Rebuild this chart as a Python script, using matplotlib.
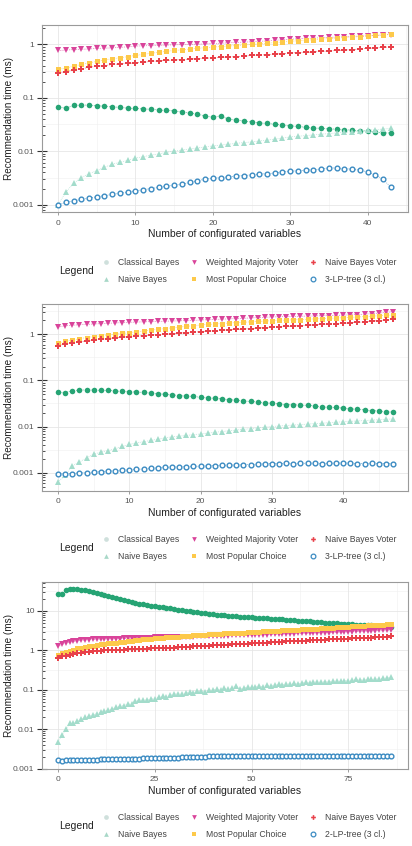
import numpy as np
import matplotlib
matplotlib.use("Agg")
import matplotlib.pyplot as plt
from matplotlib.lines import Line2D
from matplotlib.ticker import FixedLocator, LogLocator, MultipleLocator, NullFormatter

plt.rcParams['font.family'] = ['Liberation Sans', 'DejaVu Sans']

# ---- panel 1 : 0..43 configured variables ----
cb1 = [.067, .064, .072, .073, .073, .071, .070, .068, .066, .064, .063, .062, .061, .059, .058,
       .057, .054, .052, .049, .046, .043, .046, .040, .038, .037, .035, .034, .033, .032, .031,
       .030, .029, .028, .027, .027, .026, .026, .025, .025, .024, .024, .023, .022, .022]
nb1 = [.0010, .0017, .0025, .0032, .0038, .0043, .0050, .0057, .0062, .0067, .0074, .0079, .0084,
       .0089, .0095, .0101, .0105, .0110, .0115, .0120, .0126, .0130, .0135, .0140, .0145, .0149,
       .0155, .0161, .0168, .0176, .0185, .0190, .0196, .0202, .0208, .0214, .0220, .0226, .0232,
       .0240, .0247, .0252, .0260, .0266]
wmv1 = [.77, .78, .80, .81, .82, .84, .85, .86, .88, .90, .93, .94, .95, .96, .97, .98, .99, 1.0,
        1.01, 1.02, 1.04, 1.05, 1.07, 1.09, 1.10, 1.12, 1.14, 1.16, 1.19, 1.22, 1.25, 1.27, 1.29,
        1.31, 1.33, 1.35, 1.37, 1.39, 1.41, 1.43, 1.45, 1.47, 1.50, 1.53]
mpc1 = [.34, .36, .39, .42, .45, .48, .51, .54, .56, .59, .62, .65, .68, .71, .74, .77, .79, .82,
        .84, .87, .89, .91, .93, .95, .97, 1.0, 1.02, 1.05, 1.08, 1.11, 1.14, 1.17, 1.2, 1.22, 1.25,
        1.28, 1.31, 1.34, 1.37, 1.40, 1.43, 1.47, 1.51, 1.56]
nbv1 = [.29, .31, .33, .35, .37, .39, .40, .42, .43, .44, .45, .46, .48, .49, .50, .51, .52, .53,
        .54, .55, .56, .57, .58, .59, .60, .62, .63, .64, .66, .67, .69, .70, .71, .72, .74, .75,
        .77, .78, .80, .82, .84, .86, .88, .90]
lp1 = [.00100, .00110, .00118, .00125, .00132, .00140, .00147, .00155, .00163, .00170, .00180,
       .00190, .00200, .00210, .00220, .00230, .00240, .00260, .00280, .00300, .00310, .00320,
       .00330, .00340, .00350, .00360, .00370, .00380, .00390, .00410, .00420, .00430, .00440,
       .00450, .00460, .00490, .00480, .00470, .00460, .00440, .00410, .00360, .00300, .00210]

# ---- panel 2 : 0..47 configured variables ----
cb2 = [.055, .054, .060, .062, .062, .062, .061, .061, .059, .058, .057, .056, .055, .053, .052,
       .050, .049, .047, .046, .045, .043, .042, .041, .040, .038, .0376, .036, .035, .034, .033,
       .032, .031, .030, .030, .029, .029, .028, .027, .026, .026, .025, .024, .024, .023, .022,
       .022, .021, .0206]
nb2 = [.00062, .00089, .0014, .0017, .0021, .0025, .0028, .0030, .0033, .0037, .0041, .0044, .0047,
       .0050, .0053, .0057, .0060, .0062, .0064, .0067, .0069, .0072, .0075, .0078, .0081, .0084,
       .0087, .0090, .0094, .0097, .0100, .0103, .0105, .0108, .0110, .0113, .0116, .0118, .0121,
       .0124, .0127, .0130, .0132, .0135, .0138, .0141, .0144, .0146]
wmv2 = [1.46, 1.52, 1.57, 1.61, 1.64, 1.67, 1.70, 1.73, 1.76, 1.79, 1.82, 1.84, 1.86, 1.88, 1.90,
        1.92, 1.94, 1.96, 1.98, 2.00, 2.04, 2.07, 2.10, 2.13, 2.16, 2.19, 2.22, 2.26, 2.30, 2.34,
        2.38, 2.40, 2.42, 2.44, 2.46, 2.48, 2.50, 2.52, 2.55, 2.57, 2.60, 2.64, 2.68, 2.73, 2.80,
        2.88, 2.97, 3.10]
mpc2 = [.64, .70, .75, .80, .85, .89, .93, .97, 1.01, 1.04, 1.08, 1.13, 1.18, 1.23, 1.28, 1.33,
        1.38, 1.43, 1.48, 1.54, 1.59, 1.63, 1.67, 1.71, 1.75, 1.79, 1.82, 1.86, 1.90, 1.93, 1.97,
        2.0, 2.03, 2.06, 2.09, 2.12, 2.15, 2.18, 2.21, 2.25, 2.29, 2.33, 2.37, 2.42, 2.47, 2.52,
        2.57, 2.62]
nbv2 = [.57, .61, .65, .68, .72, .75, .78, .81, .84, .86, .89, .91, .93, .96, .98, 1.00, 1.03,
        1.06, 1.08, 1.11, 1.14, 1.17, 1.19, 1.22, 1.25, 1.27, 1.30, 1.33, 1.36, 1.39, 1.42, 1.45,
        1.48, 1.51, 1.54, 1.57, 1.60, 1.63, 1.66, 1.70, 1.73, 1.77, 1.81, 1.86, 1.92, 1.98, 2.05,
        2.15]
lp2 = [.00095, .00093, .00096, .00099, .00100, .00103, .00105, .00107, .00110, .00112, .00115,
       .00118, .00120, .00124, .00127, .00130, .00132, .00133, .00135, .00137, .00138, .00140,
       .00142, .00144, .00145, .00146, .00148, .00150, .00152, .00155, .00158, .00158, .00160,
       .00158, .00160, .00160, .00160, .00158, .00160, .00160, .00162, .00160, .00158, .00158,
       .00160, .00158, .00158, .00155]

# ---- panel 3 : 0..86 configured variables ----
cb3 = [27, 27, 33, 35, 35.5, 35, 34, 33, 32, 30.5, 29, 27.5, 26, 24.5, 23, 21.5, 20.2, 19, 18,
       17, 16.2, 15.4, 14.7, 14.1, 13.7, 13.3, 12.8, 12.4, 12, 11.6, 11.2, 10.8, 10.4, 10.1, 9.8,
       9.5, 9.2, 8.9, 8.7, 8.5, 8.3, 8.1, 7.9, 7.7, 7.6, 7.4, 7.3, 7.2, 7.1, 7.0, 6.9, 6.8, 6.7,
       6.6, 6.5, 6.4, 6.3, 6.2, 6.1, 6.0, 5.9, 5.8, 5.7, 5.6, 5.5, 5.4, 5.3, 5.2, 5.1, 5.05, 5.0,
       4.9, 4.85, 4.8, 4.7, 4.65, 4.6, 4.5, 4.45, 4.4, 4.4, 4.3, 4.25, 4.2, 4.1, 4.05, 4.0]
nb3 = [.0048, .0070, .0099, .0140, .0145, .016, .018, .020, .022, .023, .025, .027, .029, .031,
       .033, .036, .038, .040, .043, .044, .052, .054, .055, .056, .058, .060, .066, .068, .065,
       .072, .078, .080, .077, .085, .088, .084, .092, .095, .090, .097, .100, .104, .101, .108,
       .105, .112, .125, .104, .112, .118, .115, .121, .125, .120, .130, .128, .133, .138, .135,
       .142, .140, .145, .142, .148, .155, .150, .157, .160, .155, .162, .160, .165, .168, .163,
       .172, .170, .178, .185, .175, .182, .185, .183, .190, .188, .195, .200, .210]
wmv3 = [1.28, 1.42, 1.52, 1.60, 1.68, 1.75, 1.80, 1.84, 1.87, 1.90, 1.92, 1.94, 1.96, 1.97, 1.98,
        1.99, 2.00, 2.01, 2.02, 2.03, 2.04, 2.05, 2.07, 2.09, 2.11, 2.13, 2.15, 2.16, 2.17, 2.18,
        2.19, 2.20, 2.21, 2.22, 2.23, 2.24, 2.25, 2.26, 2.27, 2.28, 2.30, 2.32, 2.34, 2.36, 2.38,
        2.40, 2.41, 2.42, 2.43, 2.44, 2.45, 2.46, 2.48, 2.50, 2.52, 2.54, 2.56, 2.58, 2.60, 2.62,
        2.64, 2.66, 2.68, 2.70, 2.72, 2.74, 2.76, 2.78, 2.80, 2.82, 2.84, 2.86, 2.88, 2.90, 2.93,
        2.96, 2.99, 3.02, 3.05, 3.08, 3.11, 3.14, 3.17, 3.20, 3.23, 3.25, 3.27]
mpc3 = [.76, .84, .92, .98, 1.05, 1.12, 1.17, 1.22, 1.27, 1.32, 1.38, 1.42, 1.46, 1.50, 1.54, 1.58,
        1.62, 1.66, 1.70, 1.76, 1.82, 1.86, 1.90, 1.94, 1.98, 2.02, 2.05, 2.09, 2.13, 2.17, 2.20,
        2.24, 2.28, 2.32, 2.36, 2.40, 2.44, 2.48, 2.52, 2.56, 2.60, 2.63, 2.66, 2.69, 2.72, 2.75,
        2.78, 2.81, 2.84, 2.87, 2.90, 2.94, 2.98, 3.02, 3.06, 3.10, 3.14, 3.18, 3.22, 3.26, 3.30,
        3.34, 3.38, 3.42, 3.46, 3.50, 3.54, 3.58, 3.62, 3.66, 3.70, 3.76, 3.82, 3.88, 3.94, 4.00,
        4.06, 4.12, 4.18, 4.24, 4.30, 4.36, 4.42, 4.48, 4.52, 4.56, 4.60]
nbv3 = [.65, .70, .74, .78, .81, .84, .87, .90, .93, .96, .98, .99, 1.00, 1.01, 1.02, 1.03, 1.04,
        1.05, 1.06, 1.07, 1.08, 1.09, 1.10, 1.11, 1.12, 1.13, 1.14, 1.15, 1.16, 1.165, 1.17, 1.19,
        1.21, 1.23, 1.24, 1.26, 1.27, 1.29, 1.30, 1.32, 1.34, 1.35, 1.37, 1.38, 1.40, 1.42, 1.43,
        1.45, 1.46, 1.48, 1.50, 1.52, 1.54, 1.56, 1.58, 1.60, 1.62, 1.64, 1.66, 1.68, 1.70, 1.72,
        1.74, 1.76, 1.78, 1.80, 1.82, 1.84, 1.86, 1.88, 1.90, 1.92, 1.94, 1.96, 1.98, 2.00, 2.02,
        2.04, 2.06, 2.08, 2.10, 2.12, 2.14, 2.16, 2.18, 2.20, 2.25]
lp3 = [.00170, .00160, .00162, .00163, .00164, .00165, .00166, .00167, .00168, .00169, .00170,
       .00171, .00172, .00173, .00174, .00175, .00176, .00177, .00178, .00179, .00180, .00181,
       .00182, .00183, .00184, .00185, .00186, .00187, .00188, .00189, .00190, .00192, .00194,
       .00196, .00198, .00200, .00201, .00202, .00203, .00204, .00205, .00206, .00207, .00208,
       .00209, .00210, .00210, .00211, .00211, .00212, .00212, .00212, .00212, .00212, .00211,
       .00211, .00211, .00211, .00210, .00210, .00210, .00210, .00210, .00210, .00210, .00210,
       .00210, .00210, .00210, .00210, .00210, .00210, .00210, .00210, .00210, .00210, .00209,
       .00209, .00209, .00209, .00209, .00208, .00208, .00208, .00208, .00208, .00208]

names = ["Classical Bayes", "Naive Bayes", "Weighted Majority Voter",
         "Most Popular Choice", "Naive Bayes Voter"]
lp_names = ["3-LP-tree (3 cl.)", "3-LP-tree (3 cl.)", "2-LP-tree (3 cl.)"]
colors = ["#26a474", "#a3dccb", "#d9449a", "#fdc94a", "#e8414a", "#3b8bc2"]
legend_colors = ["#cfe0dc", "#a8d8c8", "#d9449a", "#fdc94a", "#e8414a", "#3b8bc2"]
markers = ["o", "^", "v", "s", "P", "o"]
msizes = [4.0, 4.2, 4.4, 3.6, 4.6, 3.4]

panels = [
    dict(series=[cb1, nb1, wmv1, mpc1, nbv1, lp1], rect=[0.102, 0.7494, 0.888, 0.221],
         xlim=(-2.07, 45.2), ylim=(10**-3.139, 10**0.362), xmaj=10, leg_y=271),
    dict(series=[cb2, nb2, wmv2, mpc2, nbv2, lp2], rect=[0.102, 0.4200, 0.888, 0.2207],
         xlim=(-2.24, 49.07), ylim=(10**-3.39, 10**0.657), xmaj=10, leg_y=548),
    dict(series=[cb3, nb3, wmv3, mpc3, nbv3, lp3], rect=[0.102, 0.0914, 0.888, 0.2207],
         xlim=(-4.13, 90.4), ylim=(10**-3.0, 10**1.735), xmaj=25, leg_y=826),
]

W, H = 412, 846
fig = plt.figure(figsize=(W / 100, H / 100), dpi=100)

for k, p in enumerate(panels):
    ax = fig.add_axes(p["rect"])
    ax.set_yscale("log")
    for i, (s, c, m) in enumerate(zip(p["series"], colors, markers)):
        x = np.arange(len(s))
        open_marker = (i == 5)
        ax.plot(x, s, linestyle=":", lw=0.5, color=c, marker=m, ms=msizes[i],
                mfc="white" if open_marker else c, mec=c,
                mew=1.0 if open_marker else 0, zorder=3)
    ax.set_xlim(*p["xlim"])
    ax.set_ylim(*p["ylim"])

    # grid like ggplot
    ax.xaxis.set_major_locator(MultipleLocator(p["xmaj"]))
    ax.xaxis.set_minor_locator(MultipleLocator(p["xmaj"] / 2))
    ax.grid(True, which="major", axis="x", color="#e6e6e6", lw=0.6, zorder=0)
    ax.grid(True, which="minor", axis="x", color="#f0f0f0", lw=0.4, zorder=0)
    decades = [10.0 ** e for e in range(-4, 3)]
    ax.yaxis.set_major_locator(FixedLocator(decades))
    ax.yaxis.set_major_formatter(lambda v, pos: f"{v:g}")
    ax.yaxis.set_minor_locator(LogLocator(base=10, subs=np.arange(2, 10)))
    ax.yaxis.set_minor_formatter(NullFormatter())
    ax.grid(True, which="major", axis="y", color="#e6e6e6", lw=0.6, zorder=0)
    for e in range(-4, 2):
        ax.axhline(10 ** (e + 0.5), color="#f0f0f0", lw=0.4, zorder=0)
    ax.set_axisbelow(True)

    for sp in ax.spines.values():
        sp.set_color("#9a9a9a")
        sp.set_linewidth(0.8)
    ax.tick_params(axis="x", which="major", length=2.5, width=0.5, color="#777777",
                   labelsize=6, labelcolor="#555555", pad=3)
    ax.tick_params(axis="x", which="minor", length=0)
    ax.tick_params(axis="y", which="major", direction="inout", length=7, width=0.8,
                   color="#333333", labelsize=6, labelcolor="#555555", pad=2)
    ax.tick_params(axis="y", which="minor", direction="in", length=2.5, width=0.6,
                   color="#333333")
    ax.set_xlabel("Number of configurated variables", fontsize=7.5, color="#222222", labelpad=2)
    ax.set_ylabel("Recommendation time (ms)", fontsize=7.2, color="#222222")
    ax.yaxis.set_label_coords(-0.076, 0.5)

    # legend below each panel
    handles = []
    for i in range(6):
        lab = names[i] if i < 5 else lp_names[k]
        c = legend_colors[i]
        om = (i == 5)
        handles.append(Line2D([], [], linestyle="none", marker=markers[i], ms=3.4,
                              mfc="white" if om else c, mec=c, mew=0.9 if om else 0,
                              label=lab))
    ly = 1 - p["leg_y"] / H
    fig.text(77 / W, ly, "Legend", fontsize=7.5, color="#222222", ha="center", va="center")
    fig.legend(handles, [h.get_label() for h in handles],
               loc="center left", bbox_to_anchor=(102 / W, ly), ncol=3, frameon=False,
               fontsize=6.2, labelcolor="#444444", handlelength=1.0, handletextpad=0.9,
               columnspacing=1.2, labelspacing=0.85, borderpad=0, borderaxespad=0)

fig.savefig("out.png", dpi=100)
